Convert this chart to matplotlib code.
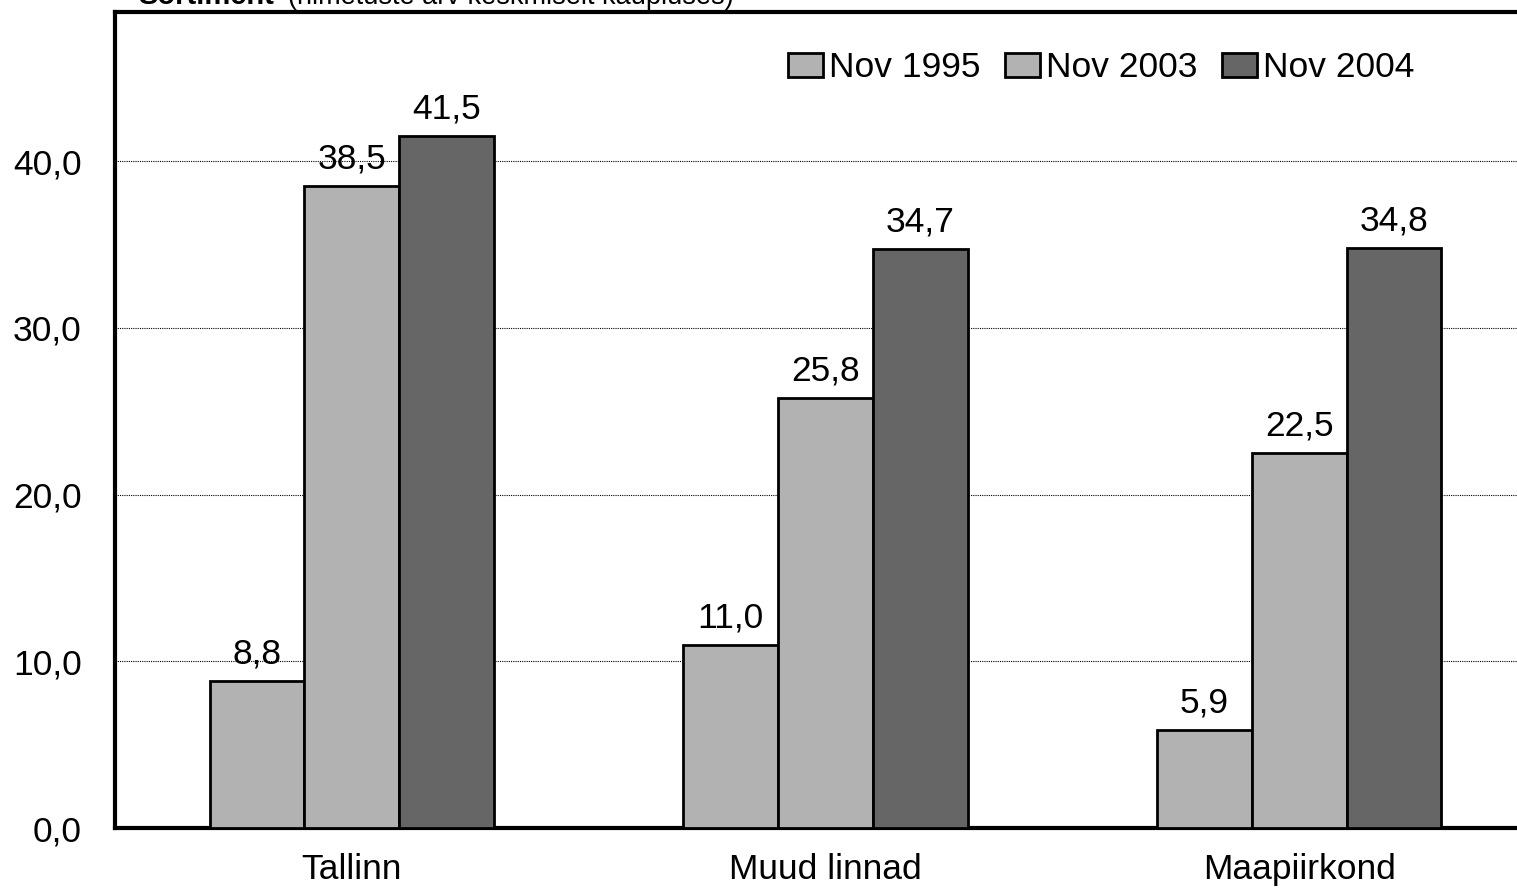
import numpy as np
import matplotlib.pyplot as plt

plt.rcParams['font.family'] = ['Liberation Sans', 'DejaVu Sans']

regions = ['Tallinn', 'Muud linnad', 'Maapiirkond']
series = ['Nov 1995', 'Nov 2003', 'Nov 2004']
nov1995 = [8.8, 11.0, 5.9]
nov2003 = [38.5, 25.8, 22.5]
nov2004 = [41.5, 34.7, 34.8]
colors = ['#b2b2b2', '#b2b2b2', '#666666']


def fmt(v):
    return f'{v:.1f}'.replace('.', ',')


fig = plt.figure(figsize=(15.17, 8.89), dpi=100)
# right edge of the frame falls outside the picture, as in the original
ax = fig.add_axes([115 / 1517, 1 - 828 / 889, 1421 / 1517, 816 / 889])

x = np.arange(len(regions))
w = 0.2
for i, (name, vals) in enumerate(zip(series, [nov1995, nov2003, nov2004])):
    bars = ax.bar(x + (i - 1) * w, vals, w, color=colors[i], edgecolor='black',
                  linewidth=2, label=name, zorder=3)
    for b, v in zip(bars, vals):
        ax.text(b.get_x() + b.get_width() / 2, v + 1.05, fmt(v), ha='center',
                va='baseline', fontsize=25.5, zorder=4)

ax.set_xlim(-0.5, 2.5)
ax.set_ylim(0, 48.94)
ax.set_yticks([0, 10, 20, 30, 40])
ax.set_yticklabels([fmt(t) for t in [0, 10, 20, 30, 40]])
ax.set_xticks(x)
ax.set_xticklabels(regions)
ax.tick_params(axis='both', length=0, labelsize=25.5)
ax.tick_params(axis='y', pad=24)
ax.tick_params(axis='x', pad=18)
ax.yaxis.grid(True, color='black', linestyle=(0, (1, 1)), linewidth=0.8, zorder=0)
for s in ax.spines.values():
    s.set_linewidth(3)

ax.legend(loc='center right', bbox_to_anchor=((1414 - 115) / 1421, (828 - 68) / 816),
          ncol=3, frameon=False, fontsize=25.5, handlelength=1.0, handleheight=0.7,
          handletextpad=0.15, columnspacing=0.7, borderaxespad=0, borderpad=0)

fig.text(138 / 1517, 1 - 3.5 / 889, 'Sortiment', fontsize=21, fontweight='bold',
         va='baseline', ha='left')
fig.text(288 / 1517, 1 - 3.5 / 889, '(nimetuste arv keskmiselt kaupluses)',
         fontsize=19.5, va='baseline', ha='left')

fig.savefig('out.png', dpi=100)
